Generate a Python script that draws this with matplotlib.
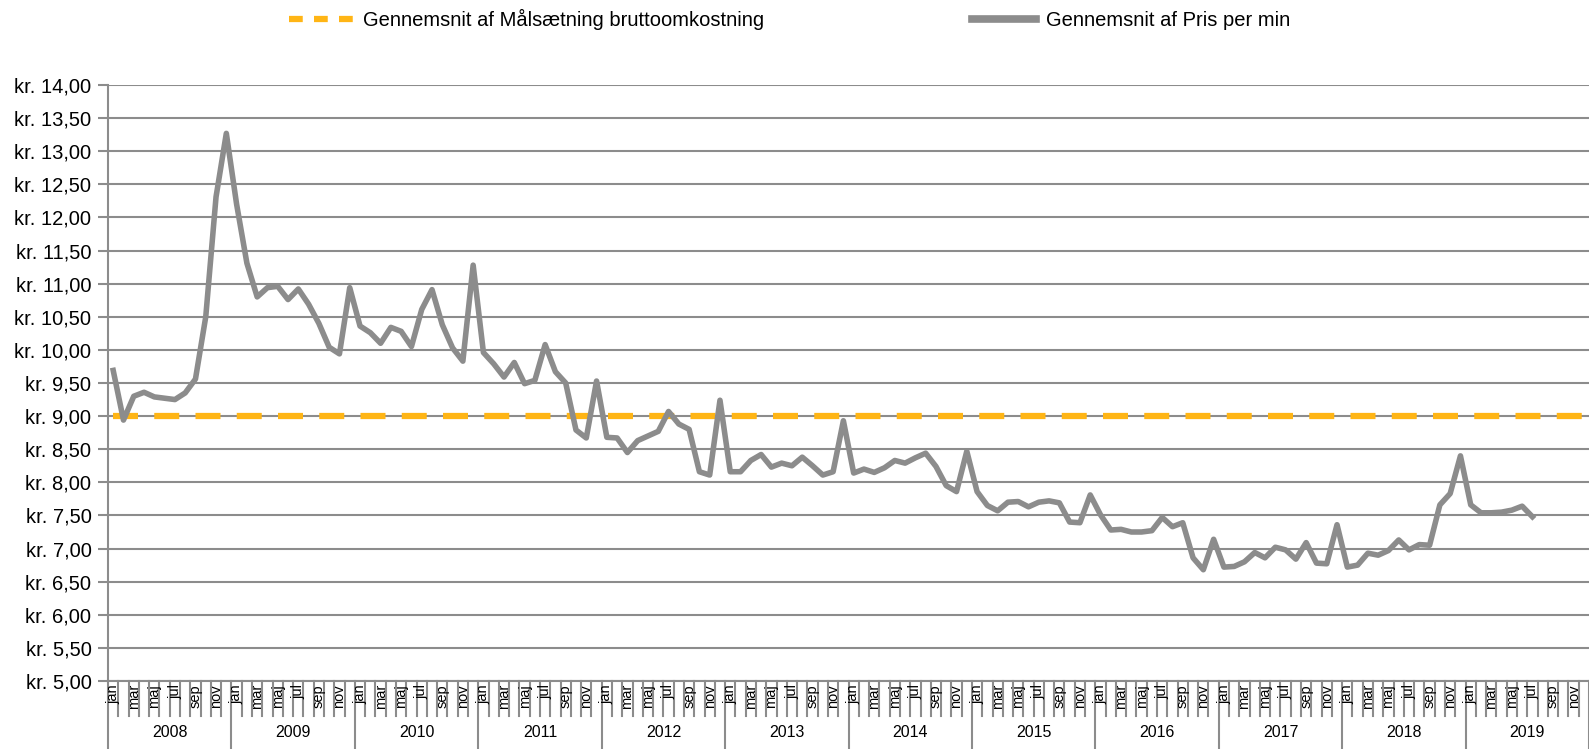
import numpy as np
import matplotlib.pyplot as plt
import matplotlib.transforms as mtransforms
from matplotlib.lines import Line2D

plt.rcParams['font.family'] = ['Liberation Sans', 'DejaVu Sans']

# Data
years = [str(y) for y in range(2008, 2020)]
months = ['jan', 'feb', 'mar', 'apr', 'maj', 'jun', 'jul', 'aug', 'sep', 'okt', 'nov', 'dec']
pris_per_min = [
    9.69, 8.94, 9.30, 9.36, 9.29, 9.27, 9.25, 9.35, 9.56, 10.50, 12.31, 13.27,   # 2008
    12.20, 11.31, 10.80, 10.94, 10.96, 10.76, 10.92, 10.69, 10.40, 10.04, 9.94, 10.94,  # 2009
    10.36, 10.26, 10.10, 10.34, 10.28, 10.05, 10.61, 10.91, 10.38, 10.03, 9.83, 11.28,  # 2010
    9.96, 9.79, 9.59, 9.81, 9.49, 9.54, 10.08, 9.67, 9.50, 8.79, 8.67, 9.53,    # 2011
    8.68, 8.67, 8.45, 8.63, 8.70, 8.77, 9.07, 8.88, 8.80, 8.16, 8.11, 9.24,     # 2012
    8.16, 8.16, 8.33, 8.42, 8.23, 8.29, 8.25, 8.38, 8.25, 8.11, 8.16, 8.93,     # 2013
    8.14, 8.20, 8.15, 8.22, 8.33, 8.29, 8.37, 8.44, 8.24, 7.95, 7.86, 8.47,     # 2014
    7.86, 7.65, 7.57, 7.70, 7.71, 7.63, 7.70, 7.72, 7.69, 7.40, 7.39, 7.81,     # 2015
    7.51, 7.28, 7.29, 7.25, 7.25, 7.27, 7.47, 7.33, 7.39, 6.86, 6.68, 7.14,     # 2016
    6.72, 6.73, 6.80, 6.94, 6.86, 7.02, 6.98, 6.84, 7.09, 6.78, 6.77, 7.36,     # 2017
    6.72, 6.75, 6.93, 6.90, 6.97, 7.13, 6.98, 7.06, 7.05, 7.66, 7.83, 8.40,     # 2018
    7.66, 7.54, 7.54, 7.55, 7.58, 7.64, 7.48,                                   # 2019
]
maalsaetning = 9.00
yticks = np.arange(5.0, 14.01, 0.5)

n_months = len(years) * 12
x_all = np.arange(n_months)
x_pris = np.arange(len(pris_per_min))

fig = plt.figure(figsize=(15.89, 7.49), dpi=100)
ax = fig.add_axes([0.068, 0.0908, 0.932, 0.7957])

grid_col = '#8c8c8c'
ax.plot(x_all, [maalsaetning] * n_months, color='#FFB515', linewidth=4.5,
        dashes=(4.0, 2.6), zorder=3)
ax.plot(x_pris, pris_per_min, color='#8c8c8c', linewidth=4.0, zorder=4)

ax.set_xlim(-0.5, n_months - 0.5)
ax.set_ylim(5, 14)
ax.set_yticks(yticks)
ax.set_yticklabels(['kr. ' + f'{v:.2f}'.replace('.', ',') for v in yticks], fontsize=14.5)
ax.yaxis.grid(True, color=grid_col, linewidth=1.5)
ax.tick_params(axis='y', length=7, color=grid_col, width=1.5, pad=5)
ax.set_xticks([])
for s in ['top', 'right']:
    ax.spines[s].set_visible(False)
ax.spines['left'].set_color(grid_col)
ax.spines['left'].set_linewidth(1.5)
ax.spines['bottom'].set_color(grid_col)
ax.spines['bottom'].set_linewidth(1.5)

# Kategoriakse med måneder og år
trans = mtransforms.blended_transform_factory(ax.transData, ax.transAxes)
for i in range(n_months + 1):
    bottom = -0.115 if i % 12 == 0 else -0.058
    ax.plot([i - 0.5, i - 0.5], [0, bottom], color=grid_col, linewidth=1.5,
            transform=trans, clip_on=False)
for i in range(n_months):
    if i % 2 == 0:
        ax.text(i, -0.005, months[i % 12], rotation=90, ha='center', va='top',
                fontsize=10.5, transform=trans)
for k, yr in enumerate(years):
    ax.text(12 * k + 5.5, -0.087, yr, ha='center', va='center', fontsize=11.5,
            transform=trans)

handles = [
    Line2D([], [], color='#FFB515', linewidth=4.5, dashes=(2.2, 1.8)),
    Line2D([], [], color='#8c8c8c', linewidth=5.5),
]
labels = ['Gennemsnit af Målsætning bruttoomkostning', 'Gennemsnit af Pris per min']
fig.legend(handles, labels, loc='upper center', bbox_to_anchor=(0.497, 1.012),
           ncol=2, frameon=False, fontsize=14.5, handlelength=3.2,
           handletextpad=0.5, columnspacing=10.3)

fig.savefig('out.png', dpi=100)
